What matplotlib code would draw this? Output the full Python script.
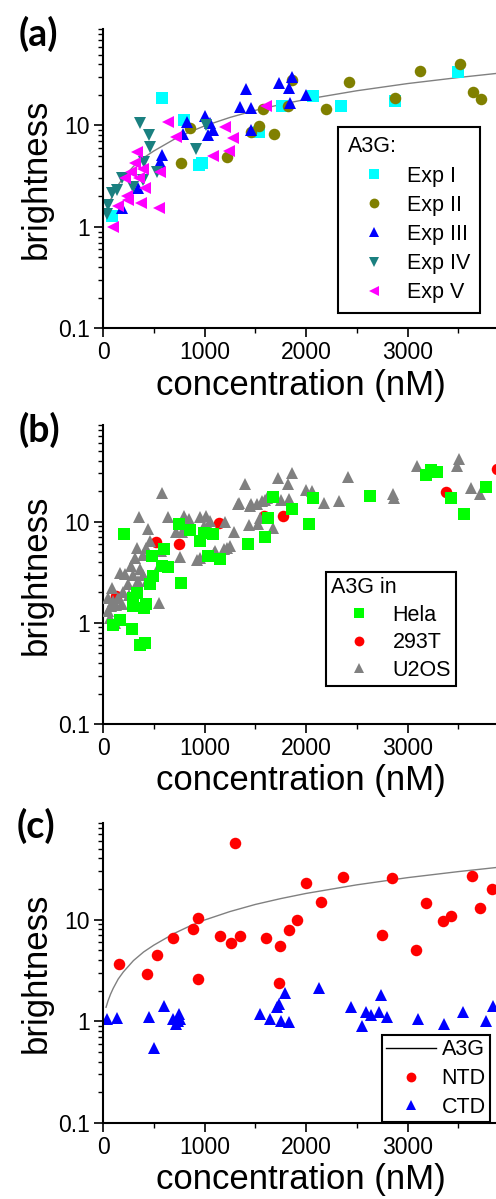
import matplotlib
matplotlib.use('Agg')
import matplotlib.pyplot as plt
from matplotlib.ticker import FixedLocator, FixedFormatter, LogLocator, NullFormatter

plt.rcParams['font.family'] = ['Liberation Sans', 'DejaVu Sans']

# ---------------- data ----------------
# fitted A3G curve
fit_x = [30, 50, 75, 100, 150, 200, 300, 400, 500, 700, 850, 1000, 1250, 1500, 1750, 2000, 2500, 3000, 3500, 3900]
fit_y = [1.37, 1.59, 1.85, 2.1, 2.6, 3.05, 3.95, 4.8, 5.6, 7.3, 8.6, 9.9, 12.0, 14.1, 16.1, 18.1, 22.0, 25.9, 29.7, 32.8]

# panel (a)
exp1_x = [85, 585, 797, 944, 977, 1539, 1762, 2072, 2340, 2873, 3493]
exp1_y = [1.27, 18.7, 11.2, 4.1, 4.3, 8.6, 15.7, 19.7, 15.7, 17.3, 33.4]
exp2_x = [772, 853, 1223, 1458, 1532, 1680, 1572, 1817, 1866, 2193, 2422, 2873, 3118, 3516, 3640, 3722]
exp2_y = [4.27, 9.4, 4.9, 8.6, 9.8, 8.3, 14.4, 15.7, 28.0, 14.7, 26.6, 18.7, 34.8, 40.7, 21.2, 18.3]
exp3_x = [183, 343, 566, 585, 787, 826, 1000, 1032, 1049, 1082, 1350, 1409, 1458, 1458, 1735, 1833, 1840, 1866, 2003]
exp3_y = [1.54, 2.4, 4.4, 5.1, 8.2, 10.8, 12.3, 8.0, 10.6, 9.1, 15.1, 23.1, 14.9, 9.1, 26.2, 23.4, 16.7, 30.0, 19.8]
exp4_x = [36, 52, 85, 140, 183, 297, 395, 405, 363, 454, 461, 532, 919, 1010]
exp4_y = [1.33, 1.66, 2.16, 2.3, 3.04, 2.5, 2.9, 4.34, 10.6, 8.0, 6.1, 3.5, 5.9, 10.2]
exp5_x = [101, 150, 216, 232, 248, 280, 314, 330, 350, 379, 395, 412, 552, 566, 640, 722, 1088, 1206, 1245, 1284, 1605]
exp5_y = [0.99, 1.6, 3.0, 2.0, 1.86, 3.5, 4.27, 5.5, 3.0, 1.72, 3.76, 2.42, 1.54, 3.48, 10.8, 7.7, 4.97, 9.6, 5.66, 7.5, 15.7]

# panel (b)
hela_x = [102, 168, 208, 290, 300, 300, 333, 366, 405, 415, 425, 458, 481, 497, 580, 596, 645, 744, 764,
          860, 958, 991, 1031, 1084, 1149, 1426, 1594, 1627, 1676, 1865, 2029, 2072, 2632, 3182, 3231,
          3287, 3429, 3554, 3775]
hela_y = [0.96, 1.06, 7.5, 0.86, 1.46, 1.77, 1.95, 0.61, 1.41, 0.63, 1.52, 2.4, 4.56, 2.9, 3.6, 5.4, 3.55, 9.4, 2.49,
          8.2, 6.4, 7.7, 4.56, 7.6, 4.24, 6.0, 7.0, 10.8, 17.6, 13.2, 9.5, 17.2, 17.9, 28.8, 32.7,
          30.8, 17.2, 11.9, 22.0]
t293_x = [128, 524, 744, 1146, 1584, 1772, 3379, 3883]
t293_y = [1.83, 6.3, 6.0, 9.7, 11.4, 11.4, 19.6, 32.9]
u2os_x = [53, 53, 69, 75, 86, 102, 119, 130, 151, 168, 185, 200, 217, 250, 260, 280, 300, 316, 326, 333, 349,
          359, 366, 398, 398, 420, 431, 448, 465, 547, 556, 570, 580, 645, 721, 761, 778, 794, 843, 926,
          958, 958, 991, 1018, 1040, 1057, 1090, 1107, 1189, 1206, 1222, 1248, 1288, 1327, 1337, 1403,
          1436, 1446, 1453, 1519, 1525, 1545, 1568, 1591, 1617, 1676, 1722, 1756, 1821, 1831, 1865, 1996,
          2062, 2177, 2325, 2414, 2853, 2863, 3093, 3488, 3501, 3620, 3709]
u2os_y = [1.3, 1.77, 1.12, 1.45, 2.2, 1.64, 1.0, 1.5, 1.77, 3.1, 1.52, 2.0, 3.05, 2.4, 1.9, 3.6, 3.0, 4.4, 1.98, 5.5, 2.6,
          11.1, 3.4, 3.0, 4.7, 5.5, 2.6, 8.4, 6.4, 3.6, 1.58, 5.1, 19.2, 11.1, 7.9, 4.5, 7.9, 11.4, 10.6, 4.2,
          4.4, 11.0, 9.0, 11.4, 8.6, 10.1, 4.9, 5.1, 5.3, 9.9, 5.5, 5.7, 7.9, 15.0, 15.3, 23.3,
          9.2, 14.2, 15.0, 15.0, 9.5, 10.8, 15.9, 16.2, 17.2, 8.6, 27.0, 16.2, 23.3, 16.6, 30.4, 20.4,
          20.0, 15.3, 15.9, 27.7, 18.6, 17.2, 35.4, 35.4, 41.4, 21.6, 18.6]

# panel (c)
ntd_x = [158, 431, 536, 694, 882, 931, 931, 1155, 1260, 1303, 1352, 1606, 1737, 1747, 1836, 1912, 2001,
         2142, 2363, 2751, 2843, 3080, 3179, 3349, 3432, 3633, 3712, 3830]
ntd_y = [3.67, 2.92, 4.5, 6.6, 8.0, 10.4, 2.6, 6.9, 5.9, 57.4, 6.9, 6.6, 2.38, 5.5, 7.9, 10.0, 22.7,
         15.0, 26.5, 7.0, 25.9, 5.0, 14.6, 9.6, 10.8, 26.8, 13.1, 19.8]
ctd_x = [36, 141, 457, 503, 605, 690, 720, 750, 760, 740, 1550, 1642, 1714, 1731, 1757, 1797, 1830, 2125,
         2438, 2553, 2586, 2636, 2718, 2734, 2794, 3103, 3359, 3541, 3771, 3837]
ctd_y = [1.05, 1.07, 1.10, 0.54, 1.40, 1.05, 0.93, 1.17, 1.05, 1.0, 1.17, 1.06, 1.37, 1.47, 1.0, 1.89, 0.98, 2.11,
         1.37, 0.90, 1.24, 1.15, 1.24, 1.81, 1.09, 1.05, 0.93, 1.24, 1.0, 1.40]

x_ticks = [0, 1000, 2000, 3000]
x_minor = [500, 1500, 2500, 3500]
y_ticks = [0.1, 1, 10]
y_ticklabels = ['0.1', '1', '10']

# ---------------- layout ----------------
W, H = 496, 1199
fig = plt.figure(figsize=(W / 100, H / 100), dpi=100)


def px_axes(left, top, right, bottom):
    return [left / W, 1 - bottom / H, (right - left) / W, (bottom - top) / H]


ax_a = fig.add_axes(px_axes(103, 28.7, 498, 328.3))
ax_b = fig.add_axes(px_axes(103, 425, 498, 724))
ax_c = fig.add_axes(px_axes(103, 822.7, 498, 1122.7))


def style(ax):
    ax.set_yscale('log')
    ax.set_xlim(0, 3890)
    ax.set_ylim(0.1, 90)
    for s in ['top', 'right']:
        ax.spines[s].set_visible(False)
    for s in ['left', 'bottom']:
        ax.spines[s].set_linewidth(1.5)
    ax.xaxis.set_major_locator(FixedLocator(x_ticks))
    ax.xaxis.set_minor_locator(FixedLocator(x_minor))
    ax.yaxis.set_major_locator(FixedLocator(y_ticks))
    ax.yaxis.set_major_formatter(FixedFormatter(y_ticklabels))
    ax.yaxis.set_minor_locator(LogLocator(base=10, subs=[2, 3, 4, 5, 6, 7, 8, 9]))
    ax.yaxis.set_minor_formatter(NullFormatter())
    ax.tick_params(which='major', direction='out', length=6.5, width=1.2, labelsize=16.5, pad=3)
    ax.tick_params(which='minor', direction='out', length=3.5, width=1.0)
    ax.set_xlabel('concentration (nM)', fontsize=25)
    ax.xaxis.set_label_coords(0.5, -0.135)
    ax.set_ylabel('brightness', fontsize=25)
    ax.yaxis.set_label_coords(-0.127, 0.5)


for ax in (ax_a, ax_b, ax_c):
    style(ax)

ms = 8.3
leg_kw = dict(loc='upper left', borderaxespad=0, fontsize=15.5, frameon=True, fancybox=False,
              edgecolor='black', framealpha=1, markerscale=0.85)

# panel (a)
ax_a.plot(fit_x, fit_y, color='#808080', lw=1.0, zorder=1)
ax_a.plot(exp1_x, exp1_y, 's', color='#00ffff', ms=ms, mew=0, label='Exp I')
ax_a.plot(exp2_x, exp2_y, 'o', color='#808000', ms=ms, mew=0, label='Exp II')
ax_a.plot(exp3_x, exp3_y, '^', color='#0000ff', ms=ms + 1, mew=0, label='Exp III')
ax_a.plot(exp4_x, exp4_y, 'v', color='#1a8080', ms=ms + 1, mew=0, label='Exp IV')
ax_a.plot(exp5_x, exp5_y, '<', color='#ff00ff', ms=ms + 1, mew=0, label='Exp V')
leg_a = ax_a.legend(bbox_to_anchor=(0.595, 0.673), title='A3G:', title_fontsize=15.5, alignment='left',
                    borderpad=0.45, handlelength=2.45, handletextpad=0.3, labelspacing=0.38, **leg_kw)
leg_a.get_frame().set_linewidth(1.5)

# panel (b)
l293, = ax_b.plot(t293_x, t293_y, 'o', color='#ff0000', ms=ms, mew=0, label='293T', zorder=2)
lu2, = ax_b.plot(u2os_x, u2os_y, '^', color='#808080', ms=ms + 1, mew=0, label='U2OS', zorder=3)
lhela, = ax_b.plot(hela_x, hela_y, 's', color='#00ff00', ms=ms, mew=0, label='Hela', zorder=4)
leg_b = ax_b.legend(handles=[lhela, l293, lu2], bbox_to_anchor=(0.564, 0.509), title='A3G in',
                    title_fontsize=15.5, alignment='left',
                    borderpad=0.25, handlelength=2.55, handletextpad=0.3, labelspacing=0.3, **leg_kw)
leg_b.get_frame().set_linewidth(1.5)

# panel (c)
ax_c.plot(fit_x, fit_y, color='#808080', lw=1.0, zorder=1, label='A3G')
ax_c.plot(ntd_x, ntd_y, 'o', color='#ff0000', ms=ms, mew=0, label='NTD')
ax_c.plot(ctd_x, ctd_y, '^', color='#0000ff', ms=ms + 1, mew=0, label='CTD')
leg_c = ax_c.legend(bbox_to_anchor=(0.706, 0.292),
                    borderpad=0.2, handlelength=2.3, handletextpad=0.27, labelspacing=0.36, **leg_kw)
leg_c.get_frame().set_linewidth(1.5)
leg_c.get_lines()[0].set_color('black')

# panel labels
for lab, xc, yc in [('(a)', 38, 34), ('(b)', 39, 430), ('(c)', 36, 826)]:
    fig.text(xc / W, 1 - yc / H, lab, ha='center', va='center', fontsize=27,
             fontweight='bold', family=['Lato', 'DejaVu Sans'])

fig.savefig('out.png', dpi=100)
